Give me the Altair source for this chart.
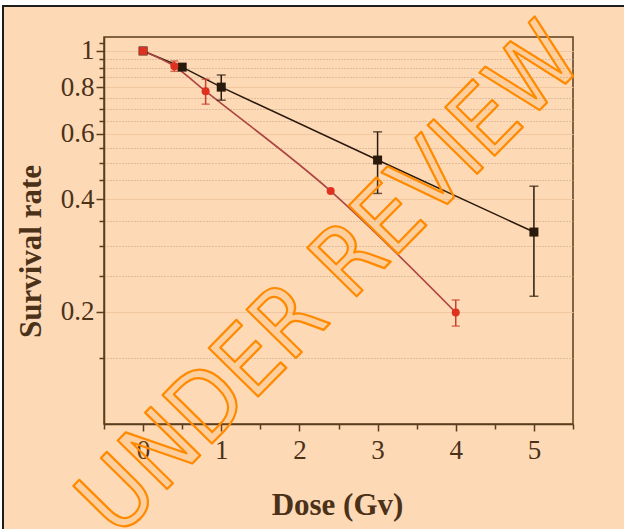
import altair as alt
import pandas as pd

# Irradiation survival: two cell lines, dose in Gy, survival fraction on a log axis
black_dose = [0, 0.5, 1, 3, 5]
black_rate = [1.0, 0.905, 0.80, 0.51, 0.327]
black_err_dose = [1, 3, 5]
black_err_lo = [0.738, 0.415, 0.22]
black_err_hi = [0.862, 0.607, 0.434]

red_dose = [0, 0.4, 0.8, 2.4, 4]
red_rate = [1.0, 0.91, 0.78, 0.421, 0.199]
red_err_dose = [0.4, 0.8, 4]
red_err_lo = [0.882, 0.72, 0.183]
red_err_hi = [0.94, 0.84, 0.215]

x_ticks = [-0.5, 0, 0.5, 1, 1.5, 2, 2.5, 3, 3.5, 4, 4.5, 5, 5.5]
y_ticks = [0.15, 0.2, 0.25, 0.3, 0.35, 0.4, 0.45, 0.5, 0.55, 0.6, 0.65,
           0.7, 0.75, 0.8, 0.85, 0.9, 0.95, 1.0, 1.05]

BG = "#fdd9b6"
INK = "#4b3118"
AXIS = "#5a3c1e"
BLACK = "#2a1a0c"
RED_PT = "#e0301f"
RED_LINE = "#ad4541"

black_df = pd.DataFrame({"dose": black_dose, "rate": black_rate})
red_df = pd.DataFrame({"dose": red_dose, "rate": red_rate})
black_err = pd.DataFrame({"dose": black_err_dose, "lo": black_err_lo, "hi": black_err_hi})
red_err = pd.DataFrame({"dose": red_err_dose, "lo": red_err_lo, "hi": red_err_hi})

major_y = "abs(datum.value*5 - round(datum.value*5)) < 0.001"
major_x = "datum.value >= 0 && abs(datum.value - round(datum.value)) < 0.001"

x_scale = alt.Scale(domain=[-0.5, 5.5], nice=False, zero=False)
y_scale = alt.Scale(type="log", domain=[0.1, 1.09], nice=False)

x_axis = alt.Axis(
    values=x_ticks,
    tickCount=len(x_ticks) + 5,
    labelExpr=f"{major_x} ? format(datum.value, 'd') : ''",
    labelOverlap=False,
    title="Dose (Gv)",
    grid=False,
    tickSize={"condition": {"test": major_x, "value": 7}, "value": 5},
    labelPadding=6,
    titleX=233,
    titleY=90,
    titleBaseline="alphabetic",
    titleAlign="center",
)
y_axis = alt.Axis(
    values=y_ticks,
    tickCount=len(y_ticks) + 5,
    labelExpr=f"{major_y} ? format(datum.value, '~g') : ''",
    labelOverlap=False,
    title="Survival rate",
    grid=True,
    gridDash={"condition": {"test": major_y, "value": []}, "value": [1, 2]},
    gridColor={"condition": {"test": major_y, "value": "#eec49c"}, "value": "#b89c84"},
    gridOpacity={"condition": {"test": "datum.value > 1.01", "value": 0}, "value": 0.9},
    tickSize={"condition": {"test": major_y, "value": 8}, "value": 5},
    labelPadding=2,
    titleAngle=270,
    titleX=-64,
    titleY=214,
    titleBaseline="alphabetic",
    titleAlign="center",
)

X = alt.X("dose:Q", scale=x_scale, axis=x_axis)
Y = alt.Y("rate:Q", scale=y_scale, axis=y_axis)
Xn = alt.X("dose:Q", scale=x_scale)

# frame decoration around the figure (white margin + dark border on top/left)
one = pd.DataFrame({"k": [0]})
deco_top = alt.Chart(one).mark_rect(color="white").encode(
    x=alt.value(-104), x2=alt.value(520), y=alt.value(-37), y2=alt.value(-32))
deco_left = alt.Chart(one).mark_rect(color="white").encode(
    x=alt.value(-104), x2=alt.value(-102), y=alt.value(-37), y2=alt.value(492))
line_top = alt.Chart(one).mark_rule(color="#1e1e1e", strokeWidth=2).encode(
    x=alt.value(-102), x2=alt.value(520), y=alt.value(-31))
line_left = alt.Chart(one).mark_rule(color="#1e1e1e", strokeWidth=2).encode(
    x=alt.value(-101), y=alt.value(-31), y2=alt.value(492))

black_line = alt.Chart(black_df).mark_line(color=BLACK, strokeWidth=1.5).encode(x=X, y=Y)
red_line = alt.Chart(red_df).mark_line(color=RED_LINE, strokeWidth=1.6, interpolate="monotone").encode(x=Xn, y="rate:Q")

black_bar = alt.Chart(black_err).mark_rule(color=BLACK, strokeWidth=1.5).encode(x=Xn, y="lo:Q", y2="hi:Q")
black_cap_lo = alt.Chart(black_err).mark_tick(color=BLACK, orient="horizontal", size=9, thickness=1.5).encode(x=Xn, y="lo:Q")
black_cap_hi = alt.Chart(black_err).mark_tick(color=BLACK, orient="horizontal", size=9, thickness=1.5).encode(x=Xn, y="hi:Q")

red_bar = alt.Chart(red_err).mark_rule(color="#c9402c", strokeWidth=1.5).encode(x=Xn, y="lo:Q", y2="hi:Q")
red_cap_lo = alt.Chart(red_err).mark_tick(color="#c9402c", orient="horizontal", size=8, thickness=1.5).encode(x=Xn, y="lo:Q")
red_cap_hi = alt.Chart(red_err).mark_tick(color="#c9402c", orient="horizontal", size=8, thickness=1.5).encode(x=Xn, y="hi:Q")

black_pts = alt.Chart(black_df).mark_point(shape="square", filled=True, size=81, color=BLACK, opacity=1).encode(x=Xn, y="rate:Q")
red_pts = alt.Chart(red_df).mark_point(filled=True, size=64, color=RED_PT, opacity=1).encode(
    x=Xn, y="rate:Q",
    shape=alt.condition("datum.dose == 0", alt.value("square"), alt.value("circle")),
)

watermark = alt.Chart(one).mark_text(
    text="UNDER REVIEW",
    angle=314.5,
    font="DejaVu Sans Condensed, Liberation Sans",
    fontSize=95,
    fill="#ff8c00",
    fillOpacity=0.13,
    stroke="#ff8a00",
    strokeWidth=2.2,
    strokeJoin="round",
    align="center",
    baseline="middle",
).encode(x=alt.value(227), y=alt.value(244))

chart = alt.layer(
    deco_top, deco_left, line_top, line_left,
    black_line, red_line,
    black_bar, black_cap_lo, black_cap_hi,
    red_bar, red_cap_lo, red_cap_hi,
    black_pts, red_pts,
    watermark,
).properties(
    width=469,
    height=387,
    padding={"left": 104, "top": 37, "right": 51, "bottom": 105},
    autosize=alt.AutoSizeParams(type="none"),
    background=BG,
).configure_view(
    stroke=AXIS, strokeWidth=1.5, fill=BG
).configure_axis(
    domainColor=AXIS, domainWidth=1.5, tickColor=AXIS, tickWidth=1.5,
    labelFont="Liberation Serif", labelFontSize=27, labelColor=INK,
    titleFont="Liberation Serif", titleFontSize=31, titleFontWeight="bold", titleColor=INK,
)

chart.save("out.html", embed_options={"renderer": "svg", "actions": False})
